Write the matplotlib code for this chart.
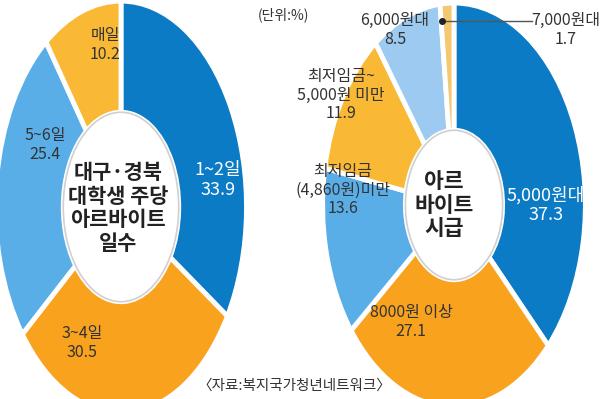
import matplotlib
matplotlib.use('Agg')
import matplotlib.pyplot as plt
from matplotlib.patches import Circle
from matplotlib.lines import Line2D

plt.rcParams['font.family'] = ['Noto Sans CJK KR', 'DejaVu Sans']

# 왼쪽: 주당 아르바이트 일수
days_labels = ['1~2일', '3~4일', '5~6일', '매일']
days_values = [33.9, 30.5, 25.4, 10.2]
days_colors = ['#0c7bc6', '#f9a21e', '#5aaee8', '#f9b934']

# 오른쪽: 아르바이트 시급
wage_labels = ['5,000원대', '8000원 이상', '최저임금\n(4,860원)미만', '최저임금~\n5,000원 미만', '6,000원대', '7,000원대']
wage_values = [37.3, 27.1, 13.6, 11.9, 8.5, 1.7]
wage_colors = ['#0c7bc6', '#f9a21e', '#5aaee8', '#f9b934', '#9ccaf0', '#f2c870']

W, H = 600, 399
fig = plt.figure(figsize=(6, 3.99), dpi=100)


def px(x, y):
    return x / W, 1 - y / H


def donut(cx, cy, rx, ry, vals, cols, hole):
    ax = fig.add_axes([(cx - rx) / W, 1 - (cy + ry) / H, 2 * rx / W, 2 * ry / H])
    ax.pie(vals, colors=cols, startangle=90, counterclock=False,
           wedgeprops=dict(width=1 - hole, edgecolor='white', linewidth=3.5))
    ax.add_patch(Circle((0, 0), hole, facecolor='white', edgecolor='#d0d0d0', linewidth=1.2))
    ax.set_xlim(-1.02, 1.02)
    ax.set_ylim(-1.02, 1.02)
    ax.set_aspect('auto')
    ax.axis('off')
    return ax


donut(121, 207, 128, 210, days_values, days_colors, 0.46)
donut(454, 205, 134, 206, wage_values, wage_colors, 0.37)

dark = '#333333'
fs = 11.5


def label(x, y, s, color=dark, size=fs, ls=1.1, weight='normal'):
    fig.text(*px(x, y), s, color=color, fontsize=size, ha='center', va='center',
             linespacing=ls, fontweight=weight)


# 왼쪽 라벨
label(218, 180, days_labels[0] + '\n' + f'{days_values[0]}', color='white', size=13)
label(82, 343, days_labels[1] + '\n' + f'{days_values[1]}')
label(45, 145, days_labels[2] + '\n' + f'{days_values[2]}')
label(105, 45, days_labels[3] + '\n' + f'{days_values[3]}')
label(118, 208, '대구·경북\n대학생 주당\n아르바이트\n일수', color='#222222', size=15, ls=1.15, weight='bold')

# 오른쪽 라벨
label(546, 205, wage_labels[0] + '\n' + f'{wage_values[0]}', color='white', size=13)
label(411, 322, wage_labels[1] + '\n' + f'{wage_values[1]}')
label(343, 190, wage_labels[2] + '\n' + f'{wage_values[2]}')
label(341, 95, wage_labels[3] + '\n' + f'{wage_values[3]}')
label(395, 30, wage_labels[4] + '\n' + f'{wage_values[4]}')
label(566, 30, wage_labels[5] + '\n' + f'{wage_values[5]}')
label(444, 205, '아르\n바이트\n시급', color='#222222', size=15.5, ls=1.15, weight='bold')

# 7,000원대 지시선
x0, y0 = px(442, 21)
x1, y1 = px(532, 21)
fig.add_artist(Line2D([x0, x1], [y0, y1], color='#555555', linewidth=1))
fig.add_artist(Line2D([x0], [y0], marker='o', markersize=4, color='#222222'))

label(283, 15, '(단위:%)', size=10)
fig.text(*px(197, 386), '〈자료:복지국가청년네트워크〉', color=dark, fontsize=10.5, ha='left', va='center')

fig.savefig('out.png', dpi=100)
